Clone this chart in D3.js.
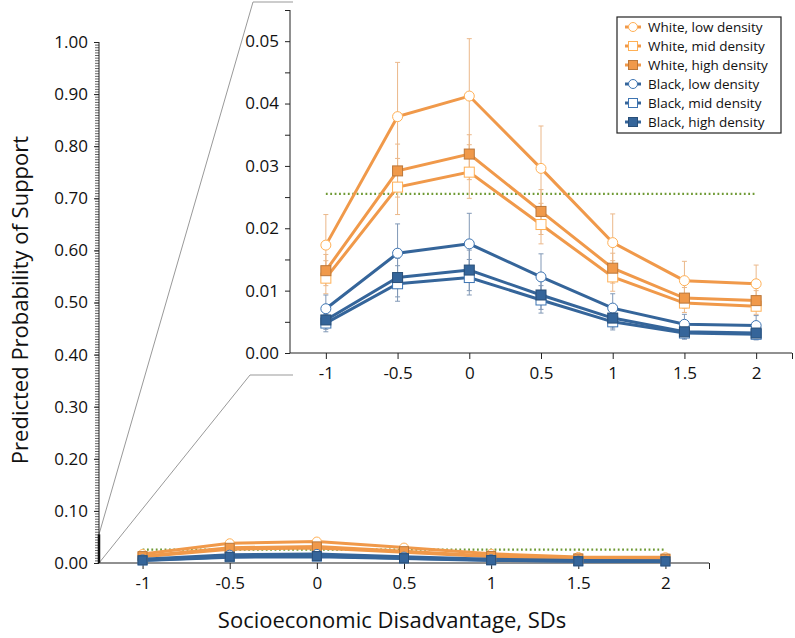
<!DOCTYPE html>
<html>
<head>
<meta charset="utf-8">
<script src="https://cdn.jsdelivr.net/npm/d3@7"></script>
<style>
  body { margin: 0; background: #fff; }
  text { font-family: "Open Sans", sans-serif; fill: #111; }
  .domain, .tick line { stroke: #222; }
</style>
</head>
<body>
<div class="chart"></div>
<script>
var svgWidth = 795;
var svgHeight = 638;

// x categories (SDs)
var sdLevels = [-1, -0.5, 0, 0.5, 1, 1.5, 2];

// predicted probabilities
var whiteLow  = [0.0173, 0.0379, 0.0412, 0.0296, 0.0177, 0.0116, 0.0111];
var whiteMid  = [0.0120, 0.0266, 0.0290, 0.0206, 0.0122, 0.0080, 0.0075];
var whiteHigh = [0.0132, 0.0292, 0.0319, 0.0227, 0.0136, 0.0088, 0.0084];
var blackLow  = [0.0071, 0.0160, 0.0175, 0.0122, 0.0072, 0.0046, 0.0044];
var blackMid  = [0.0048, 0.0111, 0.0121, 0.0085, 0.0050, 0.0032, 0.0030];
var blackHigh = [0.0053, 0.0121, 0.0133, 0.0093, 0.0056, 0.0034, 0.0032];

// confidence intervals
var whiteLowLo  = [0.0128, 0.0290, 0.0320, 0.0230, 0.0135, 0.0088, 0.0085];
var whiteLowHi  = [0.0222, 0.0466, 0.0504, 0.0364, 0.0223, 0.0147, 0.0141];
var whiteMidLo  = [0.0095, 0.0222, 0.0248, 0.0175, 0.0099, 0.0065, 0.0062];
var whiteMidHi  = [0.0148, 0.0312, 0.0334, 0.0240, 0.0148, 0.0095, 0.0090];
var whiteHighLo = [0.0108, 0.0250, 0.0278, 0.0190, 0.0112, 0.0072, 0.0068];
var whiteHighHi = [0.0158, 0.0335, 0.0350, 0.0262, 0.0160, 0.0105, 0.0100];
var blackLowLo  = [0.0052, 0.0115, 0.0130, 0.0088, 0.0050, 0.0032, 0.0030];
var blackLowHi  = [0.0093, 0.0207, 0.0224, 0.0159, 0.0095, 0.0062, 0.0060];
var blackMidLo  = [0.0034, 0.0083, 0.0093, 0.0064, 0.0037, 0.0022, 0.0021];
var blackMidHi  = [0.0062, 0.0140, 0.0150, 0.0108, 0.0065, 0.0042, 0.0040];
var blackHighLo = [0.0038, 0.0090, 0.0100, 0.0070, 0.0040, 0.0024, 0.0022];
var blackHighHi = [0.0068, 0.0152, 0.0165, 0.0118, 0.0072, 0.0046, 0.0043];

// reference (dotted) line
var baseline = 0.0255;

var seriesNames = ["White, low density", "White, mid density", "White, high density",
                   "Black, low density", "Black, mid density", "Black, high density"];

var orange = "#f0994a", blue = "#35659a";
var orangeBar = "#ebb88a", blueBar = "#8198b6";

var series = [
  {name: seriesNames[0], vals: whiteLow,  lo: whiteLowLo,  hi: whiteLowHi,  color: orange, bar: orangeBar, shape: "circle", fill: "#fff"},
  {name: seriesNames[1], vals: whiteMid,  lo: whiteMidLo,  hi: whiteMidHi,  color: orange, bar: orangeBar, shape: "square", fill: "#fff"},
  {name: seriesNames[2], vals: whiteHigh, lo: whiteHighLo, hi: whiteHighHi, color: orange, bar: orangeBar, shape: "square", fill: orange},
  {name: seriesNames[3], vals: blackLow,  lo: blackLowLo,  hi: blackLowHi,  color: blue, bar: blueBar, shape: "circle", fill: "#fff"},
  {name: seriesNames[4], vals: blackMid,  lo: blackMidLo,  hi: blackMidHi,  color: blue, bar: blueBar, shape: "square", fill: "#fff"},
  {name: seriesNames[5], vals: blackHigh, lo: blackHighLo, hi: blackHighHi, color: blue, bar: blueBar, shape: "square", fill: blue}
];

var svg = d3.select(".chart").append("svg")
  .attr("width", svgWidth)
  .attr("height", svgHeight);

// ---------- scales ----------
var xMain = d3.scaleLinear().domain([-1.25, 2.25]).range([99, 709]);
var yMain = d3.scaleLinear().domain([0, 1]).range([563, 42]);
var xIn = d3.scaleLinear().domain([-1.25, 2.25]).range([290, 792]);
var yIn = d3.scaleLinear().domain([0, 0.055]).range([353, 10]);

var fmt2 = d3.format(".2f");
// plain hyphen for negatives, like the original
var sdFormat = d => d === 2.25 ? "" : String(d);

// ---------- zoom connector lines ----------
svg.append("path")
  .attr("d", `M${xMain(-1.25)},${yMain(0.055)} L253,2 L293,2`)
  .attr("fill", "none").attr("stroke", "#999").attr("stroke-width", 1);
svg.append("path")
  .attr("d", `M${xMain(-1.25)},${yMain(0)} L250,375 L293,375`)
  .attr("fill", "none").attr("stroke", "#999").attr("stroke-width", 1);

// ---------- main chart axes ----------
var mainMinor = svg.append("g")
  .attr("transform", `translate(${xMain(-1.25)},0)`)
  .call(d3.axisLeft(yMain).tickValues(d3.range(0, 1.0001, 0.005)).tickSize(4).tickFormat(""));
mainMinor.selectAll(".tick line").attr("stroke-width", 0.7);
mainMinor.select(".domain").remove();

var mainY = svg.append("g")
  .attr("transform", `translate(${xMain(-1.25)},0)`)
  .call(d3.axisLeft(yMain).tickValues(d3.range(0, 1.0001, 0.1)).tickSize(5).tickPadding(6).tickFormat(fmt2));
mainY.select(".domain").attr("d", `M0,${yMain(1)}V${yMain(0)}`);
mainY.selectAll("text").attr("font-size", 17);

// thick part of axis = zoomed range
svg.append("line")
  .attr("x1", xMain(-1.25)).attr("x2", xMain(-1.25))
  .attr("y1", yMain(0)).attr("y2", yMain(0.055))
  .attr("stroke", "#111").attr("stroke-width", 2.5);

var mainX = svg.append("g")
  .attr("transform", `translate(0,${yMain(0)})`)
  .call(d3.axisBottom(xMain).tickValues(sdLevels.concat([2.25])).tickSize(6).tickPadding(8)
    .tickFormat(sdFormat));
mainX.select(".domain").attr("d", `M${xMain(-1.25)},0H${xMain(2.25)}`);
mainX.selectAll("text").attr("font-size", 17);

// ---------- inset axes ----------
var inY = svg.append("g")
  .attr("transform", `translate(${xIn(-1.25)},0)`)
  .call(d3.axisLeft(yIn).tickValues(d3.range(0, 0.0551, 0.005)).tickSize(5).tickPadding(6)
    .tickFormat(d => Math.abs(Math.round(d * 1000) % 10) < 0.5 ? fmt2(d) : ""));
inY.select(".domain").attr("d", `M0,${yIn(0.055)}V${yIn(0)}`);
inY.selectAll("text").attr("font-size", 17);

var inX = svg.append("g")
  .attr("transform", `translate(0,${yIn(0)})`)
  .call(d3.axisBottom(xIn).tickValues(sdLevels.concat([2.25])).tickSize(6).tickPadding(8)
    .tickFormat(sdFormat));
inX.select(".domain").attr("d", `M${xIn(-1.25)},0H${xIn(2.25)}`);
inX.selectAll("text").attr("font-size", 17);

// ---------- drawing series ----------
function drawPanel(g, xs, ys, opts) {
  // dotted reference line
  g.append("line")
    .attr("x1", xs(-1)).attr("x2", xs(2))
    .attr("y1", ys(baseline)).attr("y2", ys(baseline))
    .attr("stroke", "#6f9a35").attr("stroke-width", 2.2)
    .attr("stroke-dasharray", "1.8,2.6");

  if (opts.bars) {
    series.forEach(function(s) {
      var eb = g.append("g");
      sdLevels.forEach(function(x, i) {
        eb.append("line")
          .attr("x1", xs(x)).attr("x2", xs(x))
          .attr("y1", ys(s.lo[i])).attr("y2", ys(s.hi[i]))
          .attr("stroke", s.bar).attr("stroke-width", 1);
        [s.lo[i], s.hi[i]].forEach(function(v) {
          eb.append("line")
            .attr("x1", xs(x) - 2.5).attr("x2", xs(x) + 2.5)
            .attr("y1", ys(v)).attr("y2", ys(v))
            .attr("stroke", s.bar).attr("stroke-width", 1);
        });
      });
    });
  }

  var line = d3.line().x((d, i) => xs(sdLevels[i])).y(d => ys(d));

  series.forEach(function(s) {
    g.append("path")
      .datum(s.vals)
      .attr("d", line)
      .attr("fill", "none")
      .attr("stroke", s.color)
      .attr("stroke-width", opts.lw);
  });

  series.forEach(function(s) {
    var m = g.append("g");
    var edge = s.fill === "#fff" ? d3.color(s.color).brighter(0.4) : d3.color(s.color).darker(0.7);
    sdLevels.forEach(function(x, i) {
      if (s.shape === "circle") {
        m.append("circle")
          .attr("cx", xs(x)).attr("cy", ys(s.vals[i]))
          .attr("r", opts.size / 2)
          .attr("fill", s.fill).attr("stroke", edge).attr("stroke-width", 1);
      } else {
        m.append("rect")
          .attr("x", xs(x) - opts.size / 2).attr("y", ys(s.vals[i]) - opts.size / 2)
          .attr("width", opts.size).attr("height", opts.size)
          .attr("fill", s.fill).attr("stroke", edge).attr("stroke-width", 1);
      }
    });
  });
}

drawPanel(svg.append("g"), xMain, yMain, {bars: false, lw: 3, size: 9});
drawPanel(svg.append("g"), xIn, yIn, {bars: true, lw: 3, size: 10});

// ---------- legend ----------
var legend = svg.append("g").attr("transform", "translate(617,17)");
legend.append("rect")
  .attr("width", 164).attr("height", 116)
  .attr("fill", "#fff").attr("stroke", "#222").attr("stroke-width", 1.2);

series.forEach(function(s, i) {
  var row = legend.append("g").attr("transform", `translate(0,${10 + i * 19})`);
  row.append("line")
    .attr("x1", 8).attr("x2", 24).attr("y1", 0).attr("y2", 0)
    .attr("stroke", s.color).attr("stroke-width", 3);
  var edge = s.fill === "#fff" ? d3.color(s.color).brighter(0.4) : d3.color(s.color).darker(0.7);
  if (s.shape === "circle") {
    row.append("circle").attr("cx", 16).attr("cy", 0).attr("r", 4.5)
      .attr("fill", s.fill).attr("stroke", edge);
  } else {
    row.append("rect").attr("x", 11.5).attr("y", -4.5).attr("width", 9).attr("height", 9)
      .attr("fill", s.fill).attr("stroke", edge);
  }
  row.append("text")
    .attr("x", 31).attr("y", 0).attr("dy", "0.35em")
    .attr("font-size", 13.5)
    .text(s.name);
});

// ---------- axis titles ----------
svg.append("text")
  .attr("transform", "rotate(-90)")
  .attr("x", -300).attr("y", 20)
  .attr("text-anchor", "middle")
  .attr("dy", "0.35em")
  .attr("font-size", 22)
  .text("Predicted Probability of Support");

svg.append("text")
  .attr("x", 392).attr("y", 620)
  .attr("text-anchor", "middle")
  .attr("dy", "0.35em")
  .attr("font-size", 22)
  .text("Socioeconomic Disadvantage, SDs");
</script>
</body>
</html>
